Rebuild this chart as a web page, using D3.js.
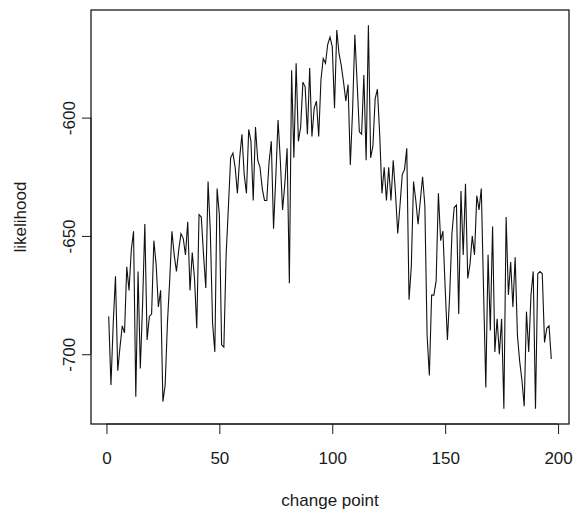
<!DOCTYPE html>
<html>
<head>
<meta charset="utf-8">
<script src="https://cdn.jsdelivr.net/npm/d3@7"></script>
<style>
  body { margin: 0; background: #fff; }
  text { font-family: "Liberation Sans", Arial, sans-serif; fill: #1a1a1a; }
</style>
</head>
<body>
<div id="chart"></div>
<script>
// likelihood at each change point (index 1..197)
const likelihood = [
  -684, -713, -687, -667, -707, -697, -688, -691, -663, -673,
  -656, -648, -718, -665, -706, -679, -645, -694, -684, -683,
  -652, -662, -680, -673, -720, -713, -687, -669, -648, -658,
  -665, -656, -649, -651, -658, -644, -673, -657, -668, -689,
  -641, -642, -658, -672, -627, -648, -687, -699, -630, -641,
  -696, -697, -658, -638, -617, -615, -621, -632, -617, -607,
  -624, -632, -605, -610, -635, -604, -618, -621, -630, -635,
  -635, -619, -610, -647, -625, -601, -618, -639, -628, -613,
  -670, -580, -617, -577, -610, -604, -585, -587, -607, -579,
  -608, -596, -593, -608, -584, -575, -577, -569, -566, -570,
  -596, -563, -573, -578, -585, -593, -586, -620, -597, -565,
  -585, -606, -607, -582, -618, -561, -617, -612, -592, -588,
  -607, -632, -621, -635, -621, -635, -618, -632, -649, -637,
  -624, -622, -613, -677, -663, -627, -635, -645, -635, -625,
  -637, -692, -709, -675, -675, -669, -632, -652, -648, -672,
  -694, -675, -649, -638, -637, -683, -631, -658, -628, -668,
  -662, -650, -658, -633, -639, -630, -673, -714, -658, -690,
  -646, -699, -685, -700, -685, -723, -642, -675, -661, -680,
  -659, -692, -703, -711, -722, -682, -699, -675, -665, -723,
  -666, -665, -666, -695, -689, -688, -702
];
const changePoint = likelihood.map((v, i) => i + 1);

const xTicks = [0, 50, 100, 150, 200];
const yTicks = [-700, -650, -600];

const W = 575, H = 515;
const BOX = {LEFT: 91, RIGHT: 569, TOP: 10, BOTTOM: 424};

const svg = d3.select("#chart").append("svg")
  .attr("width", W)
  .attr("height", H)

// R style: 4% padding on each side of the data range
const xExt = d3.extent(changePoint);
const xPad = (xExt[1] - xExt[0]) * 0.04;
const x = d3.scaleLinear()
  .domain([xExt[0] - xPad, xExt[1] + xPad])
  .range([BOX.LEFT, BOX.RIGHT])

const yExt = d3.extent(likelihood);
const yPad = (yExt[1] - yExt[0]) * 0.04;
const y = d3.scaleLinear()
  .domain([yExt[0] - yPad, yExt[1] + yPad])
  .range([BOX.BOTTOM, BOX.TOP])

// x axis
const xAxis = svg.append("g")
  .attr("transform", `translate(0, ${BOX.BOTTOM})`)
  .call(d3.axisBottom(x).tickValues(xTicks).tickSize(10).tickPadding(18).tickSizeOuter(0))
xAxis.select(".domain")
  .attr("d", `M${x(xTicks[0])},0H${x(xTicks[xTicks.length - 1])}`)
xAxis.selectAll("text")
  .attr("font-size", "17px")
  .attr("font-family", "Liberation Sans, Arial, sans-serif")
  .attr("fill", "#1a1a1a")

// y axis, labels rotated like R's default las=0
const yAxis = svg.append("g")
  .attr("transform", `translate(${BOX.LEFT}, 0)`)
  .call(d3.axisLeft(y).tickValues(yTicks).tickSize(9).tickFormat(d => "-" + Math.abs(d)).tickSizeOuter(0))
yAxis.select(".domain")
  .attr("d", `M0,${y(yTicks[0])}V${y(yTicks[yTicks.length - 1])}`)
yAxis.selectAll(".tick text")
  .attr("font-size", "17px")
  .attr("font-family", "Liberation Sans, Arial, sans-serif")
  .attr("fill", "#1a1a1a")
  .attr("x", null)
  .attr("dy", null)
  .attr("text-anchor", "middle")
  .attr("transform", "translate(-16, 0) rotate(-90)")
  .attr("y", 0)

svg.selectAll(".domain, .tick line").attr("stroke", "#1a1a1a")

// plot box
svg.append("rect")
  .attr("x", BOX.LEFT)
  .attr("y", BOX.TOP)
  .attr("width", BOX.RIGHT - BOX.LEFT)
  .attr("height", BOX.BOTTOM - BOX.TOP)
  .attr("fill", "none")
  .attr("stroke", "#1a1a1a")
  .attr("stroke-width", 1.3)

// the series
const line = d3.line()
  .x((d, i) => x(changePoint[i]))
  .y(d => y(d))

svg.append("path")
  .datum(likelihood)
  .attr("d", line)
  .attr("fill", "none")
  .attr("stroke", "#111")
  .attr("stroke-width", 1.1)

// axis titles
svg.append("text")
  .attr("x", (BOX.LEFT + BOX.RIGHT) / 2)
  .attr("y", 506)
  .attr("font-size", "17px")
  .attr("text-anchor", "middle")
  .text("change point")

svg.append("text")
  .attr("transform", `translate(26, ${(BOX.TOP + BOX.BOTTOM) / 2}) rotate(-90)`)
  .attr("font-size", "17px")
  .attr("text-anchor", "middle")
  .text("likelihood")
</script>
</body>
</html>
